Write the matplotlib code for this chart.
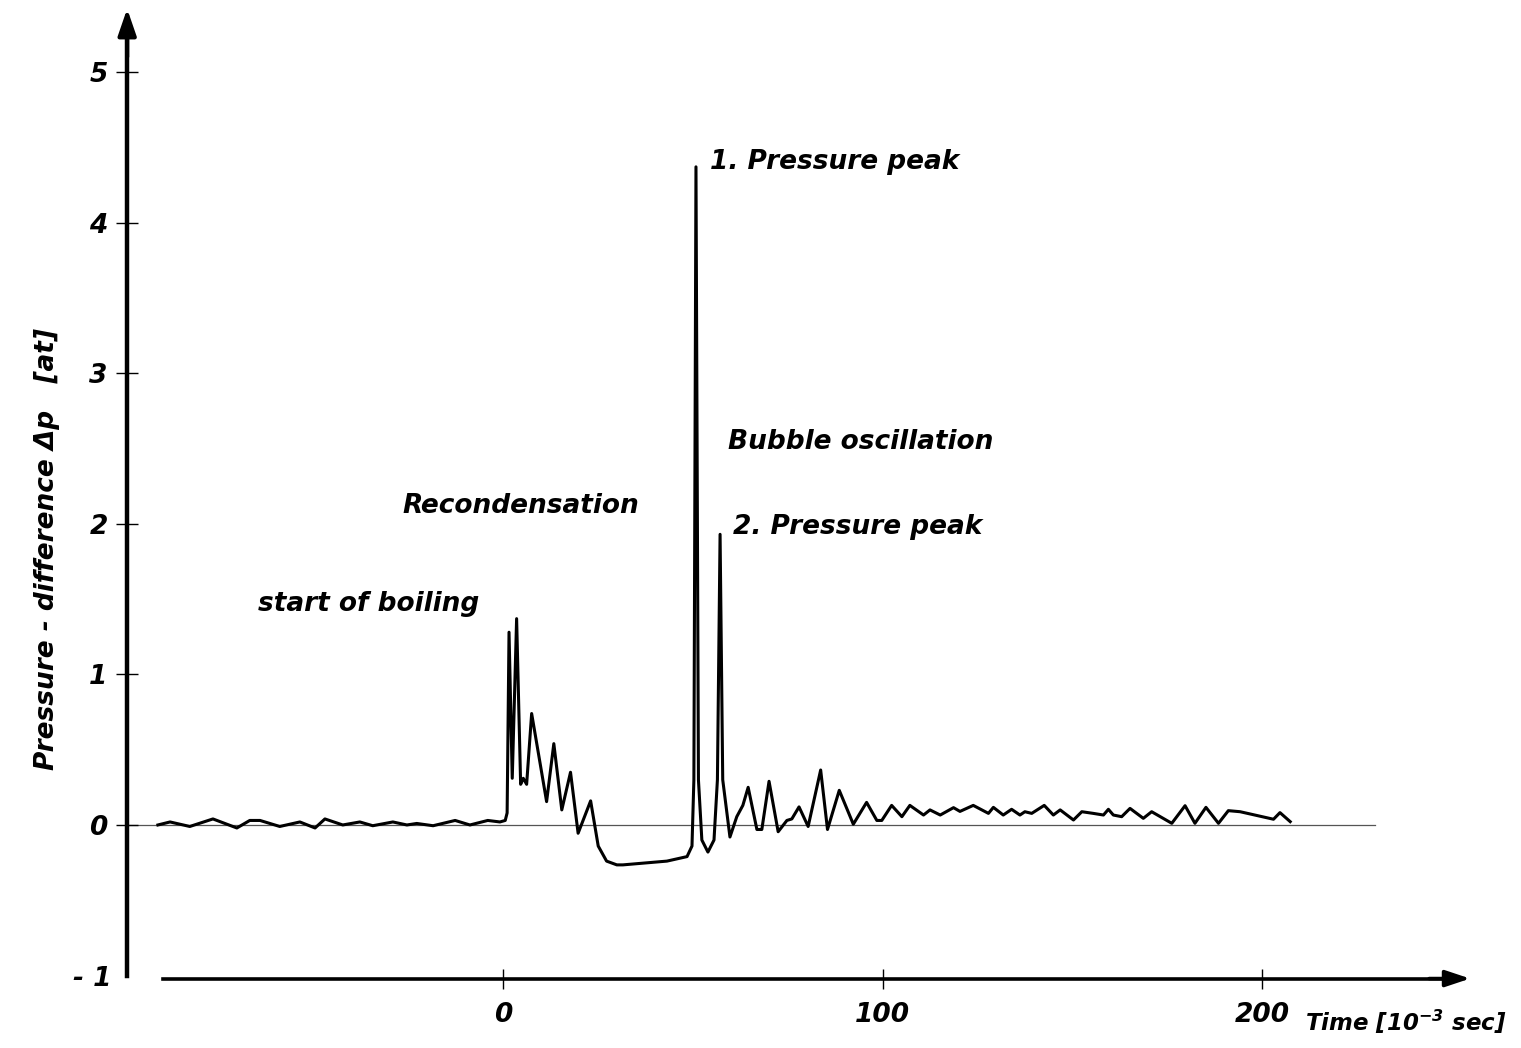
import matplotlib
matplotlib.use("Agg")
import matplotlib.pyplot as plt

# ---- data (time in 10^-3 s, pressure difference in at) ----
time = [-90.9, -87.7, -82.5, -76.4, -70.1, -66.7, -64.0, -58.8, -53.5, -49.5,
        -46.9, -42.2, -37.7, -34.3, -29.0, -25.3, -22.7, -18.4, -12.6, -8.7,
        -4.0, -0.8, 0.6, 1.1, 1.6, 2.45, 3.6, 4.66, 5.35, 6.24,
        7.56, 11.5, 13.4, 15.5, 17.8, 19.8, 23.1, 25.1, 27.3, 30.0,
        31.6, 43.2, 48.5, 49.8, 50.3, 50.85, 51.5, 52.4, 54.0, 55.6,
        56.5, 57.2, 57.9, 59.8, 61.6, 63.2, 64.6, 66.9, 68.2, 70.1,
        72.5, 74.8, 76.1, 78.0, 80.4, 83.7, 85.5, 88.6, 92.3, 95.8,
        98.5, 99.8, 102.4, 105.1, 107.2, 110.8, 112.5, 115.2, 118.7, 120.4,
        123.9, 127.9, 129.2, 131.8, 134.0, 136.2, 137.5, 139.3, 142.6, 145.0,
        146.8, 150.3, 152.5, 155.5, 158.2, 159.5, 160.8, 163.0, 165.2, 168.7,
        170.9, 176.2, 179.7, 182.3, 185.2, 188.5, 191.1, 194.2, 203.0, 204.7,
        207.4]
pressure = [0.0, 0.02, -0.01, 0.04, -0.02, 0.03, 0.03, -0.01, 0.02, -0.02,
            0.04, 0.0, 0.02, -0.005, 0.02, 0.0, 0.01, -0.005, 0.03, 0.0,
            0.03, 0.02, 0.03, 0.08, 1.28, 0.31, 1.37, 0.27, 0.31, 0.27,
            0.74, 0.155, 0.54, 0.10, 0.35, -0.055, 0.16, -0.14, -0.24, -0.265,
            -0.265, -0.24, -0.21, -0.14, 0.3, 4.37, 0.3, -0.1, -0.18, -0.1,
            0.3, 1.93, 0.3, -0.08, 0.055, 0.13, 0.25, -0.03, -0.03, 0.29,
            -0.045, 0.03, 0.04, 0.12, -0.01, 0.365, -0.03, 0.23, 0.005, 0.15,
            0.03, 0.03, 0.13, 0.055, 0.13, 0.066, 0.10, 0.066, 0.115, 0.09,
            0.13, 0.077, 0.117, 0.066, 0.104, 0.066, 0.088, 0.077, 0.13, 0.066,
            0.10, 0.033, 0.088, 0.077, 0.066, 0.104, 0.066, 0.055, 0.11, 0.044,
            0.088, 0.011, 0.128, 0.011, 0.117, 0.011, 0.095, 0.088, 0.038, 0.082,
            0.022]

y_ticks = [0, 1, 2, 3, 4, 5]
y_tick_labels = ["0", "1", "2", "3", "4", "5"]
y_end = [-1]
y_end_labels = ["- 1"]
x_ticks = [0, 100, 200]
x_tick_labels = ["0", "100", "200"]

annotations = [
    ("1. Pressure peak", 54.5, 4.40),
    ("Bubble oscillation", 59.3, 2.54),
    ("2. Pressure peak", 60.6, 1.98),
    ("Recondensation", -26.6, 2.12),
    ("start of boiling", -64.6, 1.47),
]

FONT = dict(family="DejaVu Sans", style="italic", weight="bold")

fig = plt.figure(figsize=(15.21, 10.48), dpi=100)
ax = fig.add_axes([0, 0, 1, 1])
ax.set_xlim(-132.5, 268.2)
ax.set_ylim(-1.481, 5.478)
ax.set_facecolor("white")

# spines as hand-drawn axes
for s in ("top", "right"):
    ax.spines[s].set_visible(False)
ax.spines["left"].set_position(("data", -99))
ax.spines["left"].set_bounds(-1, 5.25)
ax.spines["left"].set_linewidth(3.2)
ax.spines["bottom"].set_position(("data", -1.02))
ax.spines["bottom"].set_bounds(-89.6, 247)
ax.spines["bottom"].set_linewidth(2.6)

ax.set_yticks(y_ticks)
ax.set_yticklabels(y_tick_labels, fontsize=19, **FONT)
ax.set_yticks(y_end, minor=True)
ax.set_yticklabels(y_end_labels, minor=True, fontsize=19, **FONT)
ax.set_xticks(x_ticks)
ax.set_xticklabels(x_tick_labels, fontsize=19, **FONT)
ax.tick_params(axis="y", which="major", direction="inout", length=16, width=1.0, pad=6)
ax.tick_params(axis="y", which="minor", length=0, pad=11)
ax.tick_params(axis="x", direction="inout", length=14, width=1.0, pad=10)

# arrow heads
ax.annotate("", xy=(-99, 5.42), xytext=(-99, 5.1),
            arrowprops=dict(arrowstyle="-|>,head_length=1.6,head_width=0.55",
                            color="black", lw=3, shrinkA=0, shrinkB=0))
ax.annotate("", xy=(254.8, -1.02), xytext=(244, -1.02),
            arrowprops=dict(arrowstyle="-|>,head_length=1.5,head_width=0.5",
                            color="black", lw=2.6, shrinkA=0, shrinkB=0))

# zero line
ax.plot([-99, 229.8], [0, 0], color="#555555", lw=0.9, zorder=1)

# curve
ax.plot(time, pressure, color="black", lw=2.2, solid_joinstyle="round", zorder=3)

for txt, x, y in annotations:
    ax.text(x, y, txt, fontsize=19, ha="left", va="center", **FONT)

ax.text(-120.2, 1.83, "Pressure - difference Δp   [at]", rotation=90,
        fontsize=19, ha="center", va="center", **FONT)
ax.text(211.3, -1.31, "Time [10$^{\\mathregular{-3}}$ sec]", fontsize=16.5,
        ha="left", va="center", **FONT)

fig.savefig("out.png", dpi=100, facecolor="white")
